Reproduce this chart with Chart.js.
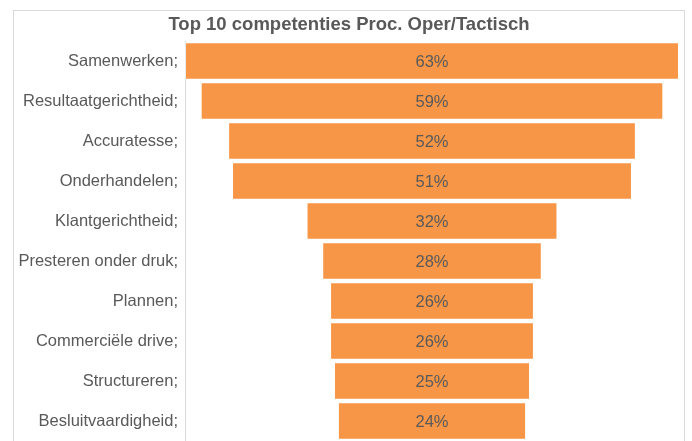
<!DOCTYPE html>
<html>
<head>
<meta charset="utf-8">
<script src="https://cdn.jsdelivr.net/npm/chart.js@4"></script>
<style>
  body { margin: 0; background: #fff; }
  canvas { display: block; }
</style>
</head>
<body>
<canvas id="funnelChart" width="692" height="441"></canvas>
<script>
const chartTitle = 'Top 10 competenties Proc. Oper/Tactisch';
const categories = [
  'Samenwerken;', 'Resultaatgerichtheid;', 'Accuratesse;', 'Onderhandelen;',
  'Klantgerichtheid;', 'Presteren onder druk;', 'Plannen;', 'Commerciële drive;',
  'Structureren;', 'Besluitvaardigheid;'
];
const percentages = [63, 59, 52, 51, 32, 28, 26, 26, 25, 24];

const FONT = "'Liberation Sans', Arial, sans-serif";
const TEXT = '#595959';

// funnel: every bar is centred on zero, half the value each side
const floating = percentages.map(v => [-v / 2, v / 2]);
const half = Math.max(...percentages) / 2;

// outer frame and the title, drawn by hand so the title sits over the whole frame
const frame = {
  id: 'frame',
  beforeDraw(chart) {
    const c = chart.ctx;
    c.save();
    c.strokeStyle = '#d9d9d9';
    c.lineWidth = 1;
    c.strokeRect(13.5, 10.5, 671, 480);
    c.font = 'bold 18.5px ' + FONT;
    c.fillStyle = TEXT;
    c.textAlign = 'center';
    c.textBaseline = 'middle';
    c.fillText(chartTitle, 349, 25);
    c.restore();
  }
};

const valueLabels = {
  id: 'valueLabels',
  afterDatasetsDraw(chart) {
    const c = chart.ctx;
    const meta = chart.getDatasetMeta(0);
    c.save();
    c.font = '16.5px ' + FONT;
    c.fillStyle = TEXT;
    c.textAlign = 'center';
    c.textBaseline = 'middle';
    meta.data.forEach((bar, i) => {
      const x = chart.scales.x.getPixelForValue(0);
      c.fillText(percentages[i] + '%', x, bar.y + 1);
    });
    c.restore();
  }
};

new Chart(document.getElementById('funnelChart'), {
  type: 'bar',
  data: {
    labels: categories,
    datasets: [{
      data: floating,
      backgroundColor: '#f79646',
      borderColor: 'rgba(255,255,255,0.45)',
      borderWidth: 1,
      borderSkipped: false,
      barPercentage: 0.94,
      categoryPercentage: 1
    }]
  },
  options: {
    indexAxis: 'y',
    responsive: false,
    animation: false,
    layout: { padding: { left: 0, right: 13, top: 41, bottom: 0 } },
    plugins: {
      legend: { display: false },
      tooltip: { enabled: false },
      title: { display: false }
    },
    scales: {
      x: { display: false, min: -half, max: half },
      y: {
        grid: { display: false, drawTicks: false },
        border: { display: true, color: '#d9d9d9' },
        ticks: { color: TEXT, font: { family: FONT, size: 16.5 }, padding: 7 },
        afterFit(scale) {
          scale.width = 185;
          scale.paddingTop = 0;
          scale.paddingBottom = 0;
        }
      }
    }
  },
  plugins: [frame, valueLabels]
});
</script>
</body>
</html>
